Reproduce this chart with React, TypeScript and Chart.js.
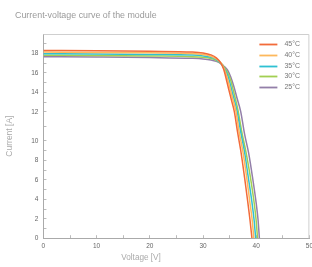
import React, { useEffect, useRef } from 'react';
import { Chart, registerables, LinearScale } from 'chart.js';

// ---- Data ----
const seriesLabels = ['45°C', '40°C', '35°C', '30°C', '25°C'];
const seriesColors = ['#f26b3a', '#fdb85c', '#2fc1d3', '#a2cf52', '#937fa9'];

const v45 = [0, 10, 20, 28, 30, 31.5, 32.5, 33.3, 33.9, 34.4, 34.8, 35.3, 35.9, 36.5, 37.1, 37.8, 38.4, 38.85, 39.2];
const i45 = [18.3, 18.27, 18.22, 18.15, 18.05, 17.85, 17.55, 17.05, 16.35, 15.3, 14.4, 13.3, 12.0, 10.6, 9.0, 6.3, 3.8, 1.8, 0];

const v40 = [0, 10, 20, 28, 30, 31.5, 32.5, 33.4, 34.0, 34.5, 35.0, 35.5, 36.2, 36.8, 37.5, 38.2, 38.8, 39.25, 39.55];
const i40 = [18.14, 18.11, 18.06, 17.99, 17.9, 17.72, 17.45, 17.0, 16.4, 15.6, 14.6, 13.5, 12.05, 10.6, 8.9, 6.3, 3.75, 1.85, 0];

const v35 = [0, 10, 20, 28, 30, 31.5, 32.5, 33.4, 34.0, 34.6, 35.1, 35.6, 36.4, 37.1, 37.8, 38.5, 39.2, 39.6, 39.9];
const i35 = [17.98, 17.95, 17.9, 17.83, 17.75, 17.6, 17.36, 16.95, 16.45, 15.8, 14.9, 13.8, 12.1, 10.6, 8.9, 6.3, 3.7, 1.9, 0];

const v30 = [0, 10, 20, 28, 30, 31.5, 32.5, 33.5, 34.0, 34.6, 35.2, 35.7, 36.6, 37.3, 38.1, 38.9, 39.6, 39.98, 40.25];
const i30 = [17.82, 17.79, 17.74, 17.67, 17.6, 17.47, 17.28, 16.93, 16.55, 16.05, 15.25, 14.2, 12.1, 10.6, 8.8, 6.3, 3.7, 1.9, 0];

const v25 = [0, 10, 20, 28, 30, 31.5, 32.5, 33.5, 34.0, 34.6, 35.2, 35.8, 36.4, 37.1, 37.8, 38.6, 39.3, 40.0, 40.35, 40.6];
const i25 = [17.66, 17.63, 17.58, 17.5, 17.44, 17.33, 17.18, 16.9, 16.65, 16.3, 15.6, 14.6, 13.4, 12.0, 10.5, 8.7, 6.3, 3.6, 1.9, 0];

const seriesV = [v45, v40, v35, v30, v25];
const seriesI = [i45, i40, i35, i30, i25];

const yLabelValues = [0, 2, 4, 6, 8, 10, 12, 14, 16, 18];
const xLabelValues = [0, 10, 20, 30, 40, 50];

const titleText = 'Current-voltage curve of the module';
const xTitle = 'Voltage [V]';
const yTitle = 'Current [A]';

// ---- Broken (stretched between 10 and 12) linear scale ----
function stretch(v: number) {
  if (v <= 10) return v;
  if (v <= 12) return 10 + (v - 10) * 1.5;
  return v + 1;
}
function unstretch(d: number) {
  if (d <= 10) return d;
  if (d <= 13) return 10 + (d - 10) / 1.5;
  return d - 1;
}

class BrokenLinearScale extends LinearScale {
  static id = 'brokenLinear';
  static defaults = LinearScale.defaults;
  getPixelForValue(value: any) {
    if (value === null || value === undefined || isNaN(value)) return NaN;
    const lo = stretch(this.min);
    const hi = stretch(this.max);
    return this.getPixelForDecimal((stretch(value) - lo) / (hi - lo));
  }
  getValueForPixel(pixel: number) {
    const lo = stretch(this.min);
    const hi = stretch(this.max);
    return unstretch(lo + this.getDecimalForPixel(pixel) * (hi - lo));
  }
}

Chart.register(...registerables, BrokenLinearScale as any);

const FONT = "'Liberation Sans', Arial, sans-serif";

const framePlugin = {
  id: 'frame',
  beforeDatasetsDraw(chart: any) {
    const { ctx, chartArea } = chart;
    ctx.save();
    ctx.strokeStyle = '#cfcfcf';
    ctx.lineWidth = 1;
    ctx.beginPath();
    ctx.moveTo(chartArea.left, chartArea.top + 0.5);
    ctx.lineTo(chartArea.right - 0.5, chartArea.top + 0.5);
    ctx.lineTo(chartArea.right - 0.5, chartArea.bottom);
    ctx.stroke();
    ctx.restore();
  },
};

const insideLegend = {
  id: 'insideLegend',
  afterDatasetsDraw(chart: any) {
    const { ctx, chartArea } = chart;
    ctx.save();
    ctx.font = `7px ${FONT}`;
    ctx.textBaseline = 'middle';
    ctx.textAlign = 'left';
    chart.data.datasets.forEach((ds: any, i: number) => {
      const y = Math.round(chartArea.top + 10 + i * 10.75) + 0.5;
      ctx.strokeStyle = ds.borderColor;
      ctx.lineWidth = 1.8;
      ctx.beginPath();
      ctx.moveTo(chartArea.right - 50, y);
      ctx.lineTo(chartArea.right - 32, y);
      ctx.stroke();
      ctx.fillStyle = '#777';
      ctx.fillText(ds.label, chartArea.right - 25, y);
    });
    ctx.restore();
  },
};

const xTitlePlugin = {
  id: 'xTitle',
  afterDraw(chart: any) {
    const { ctx, chartArea } = chart;
    ctx.save();
    ctx.font = `8.2px ${FONT}`;
    ctx.textBaseline = 'middle';
    ctx.textAlign = 'center';
    ctx.fillStyle = '#aaa';
    const x = chartArea.left + (chartArea.right - chartArea.left) * 0.367;
    ctx.fillText(xTitle, x, chartArea.bottom + 20);
    ctx.restore();
  },
};

export default function App() {
  const canvasRef = useRef<HTMLCanvasElement>(null);

  useEffect(() => {
    if (!canvasRef.current) return;
    const datasets = seriesLabels.map((label, k) => ({
      label,
      data: seriesV[k].map((v, j) => ({ x: v, y: seriesI[k][j] })),
      borderColor: seriesColors[k],
      backgroundColor: seriesColors[k],
      borderWidth: 1.5,
      pointRadius: 0,
      cubicInterpolationMode: 'monotone' as const,
      fill: false,
    }));

    const chart = new Chart(canvasRef.current, {
      type: 'line',
      data: { datasets },
      options: {
        animation: false,
        responsive: false,
        layout: { padding: { left: 5, top: 34, right: 0, bottom: 10 } },
        plugins: {
          legend: { display: false },
          tooltip: { enabled: false },
        },
        scales: {
          x: {
            type: 'linear',
            min: 0,
            max: 50,
            border: { color: '#aaa', width: 1 },
            grid: { drawOnChartArea: false, tickLength: -3, color: '#bbb', tickColor: '#bbb' },
            ticks: {
              stepSize: 5,
              autoSkip: false,
              maxRotation: 0,
              padding: 7,
              color: '#666',
              font: { size: 6.5, family: FONT },
              callback: (val: any) => (xLabelValues.includes(Number(val)) ? String(val) : ''),
            },
            title: { display: false },
          },
          y: {
            type: 'brokenLinear' as any,
            min: 0,
            max: 20,
            border: { color: '#aaa', width: 1 },
            grid: { drawOnChartArea: false, tickLength: -3, color: '#bbb', tickColor: '#bbb' },
            ticks: {
              stepSize: 1,
              autoSkip: false,
              padding: 8,
              color: '#666',
              font: { size: 6.5, family: FONT },
              callback: (val: any) => (yLabelValues.includes(Number(val)) ? String(val) : ''),
            },
            title: {
              display: true,
              text: yTitle,
              color: '#aaa',
              font: { size: 8.5, family: FONT },
              padding: { top: 0, bottom: 8 },
            },
          } as any,
        },
      },
      plugins: [framePlugin, insideLegend, xTitlePlugin],
    });
    return () => chart.destroy();
  }, []);

  return (
    <div style={{ position: 'absolute', left: 0, top: 0, width: 312, height: 267, overflow: 'hidden', background: '#fff' }}>
      <canvas ref={canvasRef} width={320} height={267} style={{ position: 'absolute', left: 0, top: 0 }} />
      <div
        style={{
          position: 'absolute',
          left: 15,
          top: 9,
          fontFamily: FONT,
          fontSize: 8.9,
          color: '#9a9a9a',
          whiteSpace: 'nowrap',
          lineHeight: '12px',
        }}
      >
        {titleText}
      </div>
    </div>
  );
}
